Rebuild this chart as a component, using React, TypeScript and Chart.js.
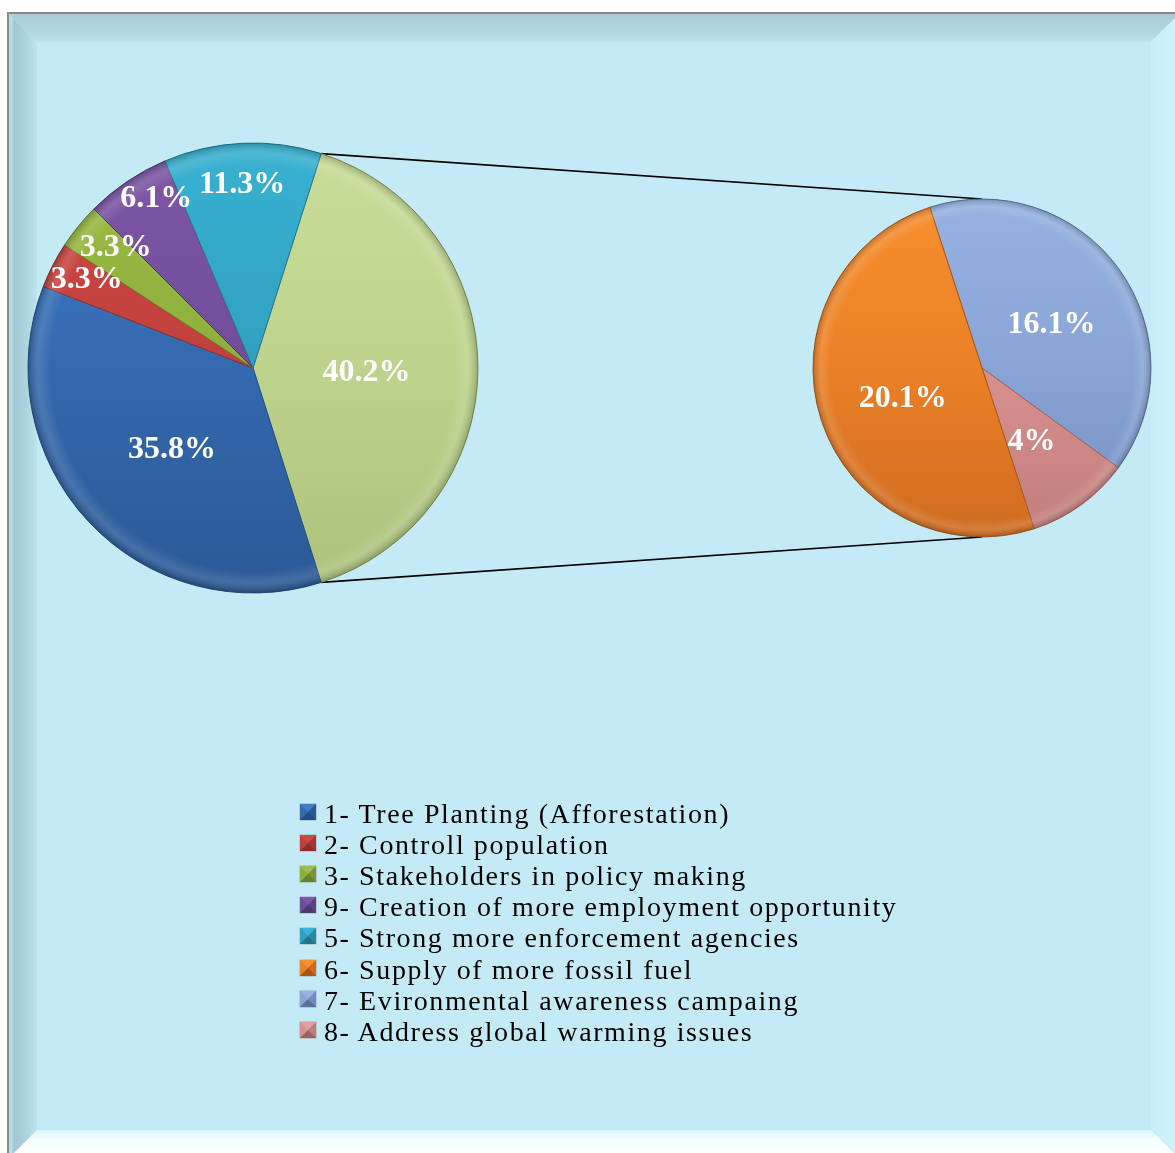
import React, { useEffect, useRef } from "react";
import { Chart, registerables } from "chart.js";

Chart.register(...registerables);

// ---------- data ----------
const mainLabels = [
  "Other",
  "1- Tree Planting (Afforestation)",
  "2- Controll population",
  "3- Stakeholders in policy making",
  "9- Creation of more employment opportunity",
  "5- Strong more enforcement agencies",
];
const mainValues = [40.2, 35.8, 3.3, 3.3, 6.1, 11.3];

const subLabels = [
  "7- Evironmental awareness campaing",
  "8- Address global warming issues",
  "6- Supply of more fossil fuel",
];
const subValues = [16.1, 4, 20.1];

const legendLabels = [
  "1- Tree Planting (Afforestation)",
  "2- Controll population",
  "3- Stakeholders in policy making",
  "9- Creation of more employment opportunity",
  "5- Strong more enforcement agencies",
  "6- Supply of more fossil fuel",
  "7- Evironmental awareness campaing",
  "8- Address global warming issues",
];

// ---------- styles ----------
type Shade = { top: string; mid: string; bottom: string; edge: string };
const BLUE: Shade = { top: "#3F7CC9", mid: "#3469AE", bottom: "#2A5894", edge: "#244d82" };
const RED: Shade = { top: "#D04A45", mid: "#C0403C", bottom: "#A63531", edge: "#8f2d2a" };
const GREEN: Shade = { top: "#9CBF45", mid: "#8DAE3C", bottom: "#789633", edge: "#66822a" };
const PURPLE: Shade = { top: "#8058A8", mid: "#704C97", bottom: "#5E3F82", edge: "#513670" };
const TEAL: Shade = { top: "#39B2D2", mid: "#31A0BF", bottom: "#2A88A4", edge: "#23758e" };
const LGREEN: Shade = { top: "#C9DD98", mid: "#BDD38B", bottom: "#ABC07A", edge: "#7f8f58" };
const ORANGE: Shade = { top: "#F79030", mid: "#EB8127", bottom: "#CD6A20", edge: "#a9561a" };
const BGREY: Shade = { top: "#97B3E2", mid: "#89A5D6", bottom: "#728CBE", edge: "#5b709c" };
const PINK: Shade = { top: "#E3A19E", mid: "#D79290", bottom: "#C07C7A", edge: "#9c6260" };

const mainShades = [LGREEN, BLUE, RED, GREEN, PURPLE, TEAL];
const subShades = [BGREY, PINK, ORANGE];
const legendShades = [BLUE, RED, GREEN, PURPLE, TEAL, ORANGE, BGREY, PINK];

// label anchor: fraction of radius along slice mid-angle, plus pixel nudge
const mainLabelRadii = [0.5, 0.5, 0.85, 0.82, 0.88, 0.83];
const mainLabelNudge = [[1, 5], [1, 5], [4, -1], [6, -4], [14, -5], [-2, 3]];
const subLabelRadii = [0.5, 0.52, 0.5];
const subLabelNudge = [[1, 6], [-2, 3], [1, 5]];

const LABEL_FONT = 'bold 32px "Liberation Serif", "Times New Roman", serif';

function gradientFor(chart: any, s: Shade) {
  const { ctx, chartArea } = chart;
  if (!chartArea) return s.mid;
  const g = ctx.createLinearGradient(0, chartArea.top, 0, chartArea.bottom);
  g.addColorStop(0, s.top);
  g.addColorStop(0.5, s.mid);
  g.addColorStop(1, s.bottom);
  return g;
}

const sliceLabels = {
  id: "sliceLabels",
  afterDatasetsDraw(chart: any, _args: any, opts: any) {
    const meta = chart.getDatasetMeta(0);
    const data = chart.data.datasets[0].data;
    const ctx = chart.ctx;
    const a0 = meta.data[0];
    if (a0) {
      const { x, y, outerRadius } = a0;
      const rg = ctx.createRadialGradient(x, y, 0, x, y, outerRadius);
      rg.addColorStop(0, "rgba(255,255,255,0)");
      rg.addColorStop(0.9, "rgba(255,255,255,0)");
      rg.addColorStop(0.955, "rgba(255,255,255,0.12)");
      rg.addColorStop(1, "rgba(0,0,0,0.2)");
      ctx.save();
      ctx.beginPath();
      ctx.arc(x, y, outerRadius, 0, Math.PI * 2);
      ctx.fillStyle = rg;
      ctx.fill();
      ctx.restore();
    }
    ctx.save();
    ctx.font = LABEL_FONT;
    ctx.fillStyle = "#ffffff";
    ctx.textAlign = "center";
    ctx.textBaseline = "middle";
    meta.data.forEach((arc: any, i: number) => {
      const mid = (arc.startAngle + arc.endAngle) / 2;
      const f = opts.radii[i];
      const [nx, ny] = opts.nudge[i];
      ctx.fillText(
        `${data[i]}%`,
        arc.x + Math.cos(mid) * arc.outerRadius * f + nx,
        arc.y + Math.sin(mid) * arc.outerRadius * f + ny
      );
    });
    ctx.restore();
  },
};

function pieConfig(labels: string[], values: number[], shades: Shade[], rotation: number, radius: number, radii: number[], nudge: number[][]): any {
  return {
    type: "pie",
    data: {
      labels,
      datasets: [
        {
          data: values,
          backgroundColor: (c: any) => gradientFor(c.chart, shades[c.dataIndex]),
          borderColor: shades.map((s) => s.edge),
          borderWidth: 1,
        },
      ],
    },
    options: {
      responsive: false,
      animation: false,
      rotation,
      radius,
      layout: { padding: 0 },
      plugins: {
        legend: { display: false },
        tooltip: { enabled: false },
        sliceLabels: { radii, nudge },
      },
    },
    plugins: [sliceLabels],
  };
}

const BEVEL = 28;

export default function App() {
  const leftRef = useRef<HTMLCanvasElement>(null);
  const rightRef = useRef<HTMLCanvasElement>(null);
  const lineRef = useRef<HTMLCanvasElement>(null);

  useEffect(() => {
    const mainTotal = mainValues.reduce((a, b) => a + b, 0);
    const otherDeg = (mainValues[0] / mainTotal) * 360;
    const leftRot = 90 - otherDeg / 2;
    const left = new Chart(leftRef.current!, pieConfig(mainLabels, mainValues, mainShades, leftRot, 225, mainLabelRadii, mainLabelNudge));
    const right = new Chart(rightRef.current!, pieConfig(subLabels, subValues, subShades, -18, 169, subLabelRadii, subLabelNudge));

    const lc = lineRef.current!;
    const ctx = lc.getContext("2d")!;
    ctx.clearRect(0, 0, lc.width, lc.height);
    const la = left.getDatasetMeta(0).data[0] as any;
    const ra = right.getDatasetMeta(0).data[0] as any;
    const lRect = leftRef.current!.getBoundingClientRect();
    const rRect = rightRef.current!.getBoundingClientRect();
    const lx = lRect.left + la.x, ly = lRect.top + la.y;
    const rx = rRect.left + ra.x, ry = rRect.top + ra.y;
    const p1 = [lx + Math.cos(la.startAngle) * la.outerRadius, ly + Math.sin(la.startAngle) * la.outerRadius];
    const p2 = [lx + Math.cos(la.endAngle) * la.outerRadius, ly + Math.sin(la.endAngle) * la.outerRadius];
    ctx.strokeStyle = "#000";
    ctx.lineWidth = 1.6;
    ctx.beginPath();
    ctx.moveTo(p1[0], p1[1]);
    ctx.lineTo(rx, ry - ra.outerRadius);
    ctx.moveTo(p2[0], p2[1]);
    ctx.lineTo(rx, ry + ra.outerRadius);
    ctx.stroke();

    return () => {
      left.destroy();
      right.destroy();
    };
  }, []);

  const W = 1174, H = 1148;
  const iw = W - 4, ih = H - 4;
  const b = BEVEL;

  return (
    <div style={{ position: "fixed", left: 0, top: 0, width: 1175, height: 1153, overflow: "hidden", background: "#ffffff" }}>
      <div
        style={{
          position: "absolute",
          left: 7,
          top: 12,
          width: W,
          height: H,
          border: "2px solid #8a8a8a",
          boxSizing: "border-box",
          background: "#C4EBF5",
        }}
      >
        {/* top bevel */}
        <div style={{ position: "absolute", left: 0, top: 0, width: iw, height: b,
          clipPath: `polygon(0 0, ${iw}px 0, ${iw - b}px ${b}px, ${b}px ${b}px)`,
          background: "linear-gradient(to bottom, #A8CCD5, #B3D9E3 70%, #BCE3EC)" }} />
        {/* left bevel */}
        <div style={{ position: "absolute", left: 0, top: 0, width: b, height: ih,
          clipPath: `polygon(0 0, ${b}px ${b}px, ${b}px ${ih - b}px, 0 ${ih}px)`,
          background: "linear-gradient(to right, #B5DCE6 0px, #B5DCE6 3px, #A3C8D1 5px, #AED4DE 18px, #BEE5EF)" }} />
        {/* right bevel */}
        <div style={{ position: "absolute", left: iw - b, top: 0, width: b, height: ih,
          clipPath: `polygon(${b}px 0, ${b}px ${ih}px, 0 ${ih - b}px, 0 ${b}px)`,
          background: "linear-gradient(to right, #C8EFF8, #CDF3FB)" }} />
        {/* bottom bevel */}
        <div style={{ position: "absolute", left: 0, top: ih - b, width: iw, height: b,
          clipPath: `polygon(${b}px 0, ${iw - b}px 0, ${iw}px ${b}px, 0 ${b}px)`,
          background: "linear-gradient(to bottom, #D8F7FD, #F6FFFF 40%, #FFFFFF)" }} />
      </div>

      <canvas ref={lineRef} width={1175} height={1153} style={{ position: "absolute", left: 0, top: 0 }} />
      <canvas ref={leftRef} width={470} height={470} style={{ position: "absolute", left: 18, top: 133 }} />
      <canvas ref={rightRef} width={360} height={360} style={{ position: "absolute", left: 802, top: 188 }} />

      <div
        style={{
          position: "absolute",
          left: 300,
          top: 798,
          fontFamily: '"Liberation Serif", "Times New Roman", serif',
          fontSize: 28,
          letterSpacing: "1.6px",
          color: "#000",
        }}
      >
        {legendLabels.map((t, i) => {
          const s = legendShades[i];
          return (
            <div key={t} style={{ display: "flex", alignItems: "center", height: 31.2, whiteSpace: "nowrap" }}>
              <span
                style={{
                  display: "inline-block",
                  width: 0,
                  height: 0,
                  borderStyle: "solid",
                  borderWidth: 8.5,
                  borderColor: `${s.top} ${s.bottom} ${s.edge} ${s.mid}`,
                  marginRight: 8,
                  marginTop: -4,
                  boxShadow: "0 0 0 0.5px rgba(0,0,0,0.25)",
                }}
              />
              <span>{t}</span>
            </div>
          );
        })}
      </div>
    </div>
  );
}
